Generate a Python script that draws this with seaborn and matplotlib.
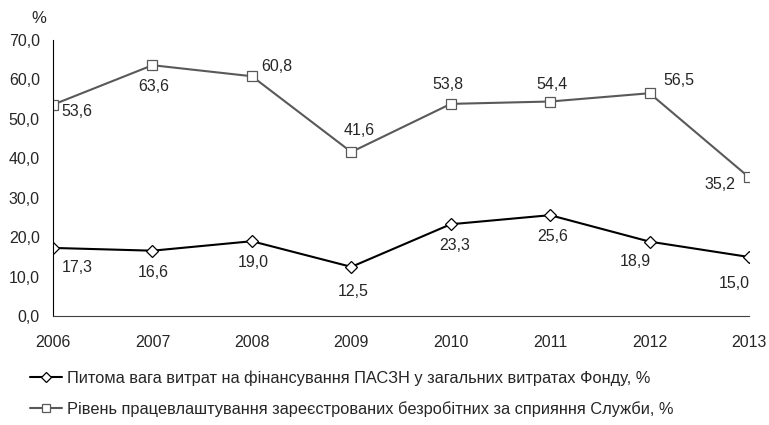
import matplotlib
matplotlib.use("Agg")
import matplotlib.pyplot as plt
from matplotlib.ticker import FuncFormatter
import seaborn as sns
import pandas as pd

years = [2006, 2007, 2008, 2009, 2010, 2011, 2012, 2013]
pasz_share = [17.3, 16.6, 19.0, 12.5, 23.3, 25.6, 18.9, 15.0]
employment_rate = [53.6, 63.6, 60.8, 41.6, 53.8, 54.4, 56.5, 35.2]

label_pasz = "Питома вага витрат на фінансування ПАСЗН у загальних витратах Фонду, %"
label_empl = "Рівень працевлаштування зареєстрованих безробітних за сприяння Служби, %"

# label offsets in pixels (dx right, dy down)
off_pasz = [(24, 20), (1, 22), (1, 21), (2, 25), (4, 21), (3, 21), (-14, 20), (-15, 26)]
off_empl = [(24, 7), (1, 21), (25, -10), (8, -22), (-3, -19), (2, -17), (29, -13), (-29, 7)]

FS = 11.5

sns.set_style("white")
plt.rcParams["font.family"] = ["Liberation Sans", "DejaVu Sans"]
plt.rcParams["font.size"] = FS

df = pd.DataFrame({"year": years, "pasz": pasz_share, "empl": employment_rate})

fig = plt.figure(figsize=(7.69, 4.25), dpi=100)
ax = fig.add_axes([0.069, 0.256, 0.905, 0.65])

sns.lineplot(data=df, x="year", y="pasz", ax=ax, color="black", lw=1.5,
             marker="D", markersize=6.5, markerfacecolor="white",
             markeredgecolor="black", markeredgewidth=0.9, label=label_pasz)
sns.lineplot(data=df, x="year", y="empl", ax=ax, color="#595959", lw=1.5,
             marker="s", markersize=6.5, markerfacecolor="white",
             markeredgecolor="#595959", markeredgewidth=0.9, label=label_empl)

for x, y, (dx, dy) in zip(years, pasz_share, off_pasz):
    ax.annotate(f"{y:.1f}".replace(".", ","), (x, y), xytext=(dx, -dy),
                textcoords="offset pixels", ha="center", va="center", fontsize=FS)
for x, y, (dx, dy) in zip(years, employment_rate, off_empl):
    ax.annotate(f"{y:.1f}".replace(".", ","), (x, y), xytext=(dx, -dy),
                textcoords="offset pixels", ha="center", va="center", fontsize=FS)

ax.set_xlim(2006, 2013)
ax.set_ylim(0, 70)
ax.set_xticks(years)
ax.set_yticks(range(0, 71, 10))
ax.yaxis.set_major_formatter(FuncFormatter(lambda v, p: f"{v:.1f}".replace(".", ",")))
ax.set_xlabel("")
ax.set_ylabel("")
ax.tick_params(axis="both", direction="out", length=3.5, width=0.8, color="#404040",
               labelsize=FS)
ax.tick_params(axis="y", pad=6)
ax.tick_params(axis="x", pad=10)
sns.despine(ax=ax)
for s in ["left", "bottom"]:
    ax.spines[s].set_color("#404040")
    ax.spines[s].set_linewidth(0.8)
ax.spines["left"].set_color("black")

handles, labels = ax.get_legend_handles_labels()
ax.get_legend().remove()
fig.legend(handles, labels, loc="center left", bbox_to_anchor=(0.029, 0.074),
           frameon=False, handlelength=1.9, handletextpad=0.3, labelspacing=0.95,
           borderpad=0, fontsize=11.8, markerscale=0.85)

fig.text(0.05, 0.957, "%", ha="center", va="center", fontsize=12)

fig.savefig("out.png", dpi=100)
